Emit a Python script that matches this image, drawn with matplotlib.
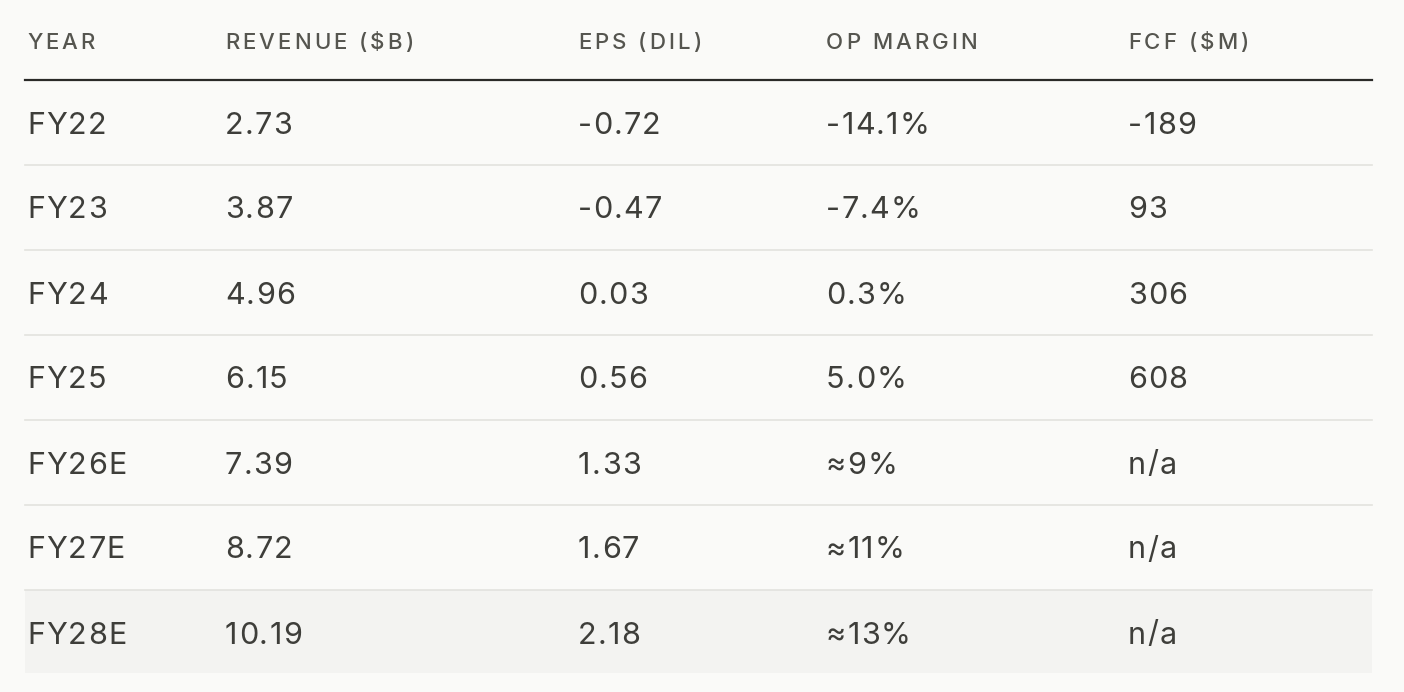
import matplotlib.pyplot as plt
from matplotlib.patches import Rectangle
from matplotlib.textpath import TextPath
from matplotlib.font_manager import FontProperties

headers = ['YEAR', 'REVENUE ($B)', 'EPS (DIL)', 'OP MARGIN', 'FCF ($M)']
years = ['FY22', 'FY23', 'FY24', 'FY25', 'FY26E', 'FY27E', 'FY28E']
revenue = ['2.73', '3.87', '4.96', '6.15', '7.39', '8.72', '10.19']
eps = ['-0.72', '-0.47', '0.03', '0.56', '1.33', '1.67', '2.18']
op_margin = ['-14.1%', '-7.4%', '0.3%', '5.0%', '≈9%', '≈11%', '≈13%']
fcf = ['-189', '93', '306', '608', 'n/a', 'n/a', 'n/a']

col_x = [27, 225, 578, 826, 1128]
bg = '#fafaf8'

fig = plt.figure(figsize=(14.04, 6.92), dpi=100, facecolor=bg)
ax = fig.add_axes([0, 0, 1, 1])
ax.set_xlim(0, 1404)
ax.set_ylim(692, 0)
ax.axis('off')


def tracked(x, y, s, size, color, weight, track):
    # draw char by char to get letter spacing (1 data unit = 1 px)
    fp = FontProperties(family='Inter', weight=weight, size=size)
    for ch in s:
        ax.text(x, y, ch, fontproperties=fp, color=color, va='center', ha='left')
        w = TextPath((0, 0), ch if ch != ' ' else 'n', prop=fp).get_extents().width if ch != ' ' else size * 0.35
        adv = TextPath((0, 0), 'x' + ch + 'x', prop=fp).get_extents().width - \
            TextPath((0, 0), 'xx', prop=fp).get_extents().width
        x += adv * 100 / 72 + track


for x, h in zip(col_x, headers):
    tracked(x, 43, h, 16, '#55554f', 'medium', 3.0)
ax.plot([25, 1372], [80, 80], color='#2a2a28', lw=1.6)

row_h = 85
y0 = 80
columns = [years, revenue, eps, op_margin, fcf]
for i in range(len(years)):
    top = y0 + i * row_h
    cy = top + row_h / 2 + 3
    if i == len(years) - 1:
        ax.add_patch(Rectangle((25, top), 1347, row_h - 2, color='#f3f3f1', lw=0))
    else:
        ax.plot([25, 1372], [top + row_h, top + row_h], color='#e2e2de', lw=1.2)
    for x, col in zip(col_x, columns):
        tracked(x, cy, col[i], 22, '#3e3e3a', 'normal', 1.2)

fig.savefig('out.png', dpi=100, facecolor=bg)
